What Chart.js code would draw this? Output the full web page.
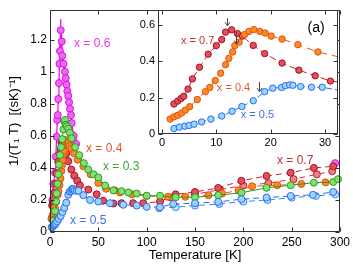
<!DOCTYPE html>
<html><head><meta charset="utf-8">
<script src="https://cdn.jsdelivr.net/npm/chart.js@4.4.0/dist/chart.umd.min.js"></script>
<style>
html,body{margin:0;padding:0;background:#fff;}
#wrap{position:relative;width:353px;height:264px;overflow:hidden;}
#main{position:absolute;left:0;top:0;}
#inset{position:absolute;left:130px;top:0;}
</style></head><body>
<div id="wrap"><canvas id="main" width="353" height="264"></canvas><canvas id="inset" width="212" height="150"></canvas></div>
<script>
// ---- tick values ----
const mainXTicks = [0,50,100,150,200,250,300];
const mainYTicks = [0,0.2,0.4,0.6,0.8,1,1.2];
const insetXTicks = [0,10,20,30];
const insetYTicks = [0,0.2,0.4,0.6];

// ---- series: x = 0.7 ----
const redT = [2.2,2.9,3.5,4.0,4.8,5.6,6.9,8.5,10.0,11.0,11.7,12.8,13.9,14.8,16.8,18.9,22.1,25.2,28.2,31.0,39.6,48.3,55,65.5,74,86,96.5,113.8,130,150,174,198,224,249,273,293];
const redV = [0.165,0.181,0.195,0.207,0.247,0.303,0.367,0.439,0.486,0.519,0.560,0.573,0.552,0.538,0.487,0.442,0.390,0.351,0.320,0.291,0.265,0.235,0.195,0.178,0.18,0.18,0.18,0.19,0.235,0.25,0.275,0.32,0.35,0.37,0.40,0.41];
const red2T = [125,150,176,200,226,252,276,292];
const red2V = [0.215,0.235,0.265,0.29,0.305,0.33,0.36,0.38];
// ---- x = 0.4 ----
const orangeT = [1.5,2.2,2.9,3.6,4.3,5.1,6.5,8.0,8.8,9.8,10.8,11.7,12.3,13.0,13.4,14.2,15.2,16.0,16.9,18.0,19.0,20.1,22.1,25.0,28.7,34.5,42,50,58,67,72.4,85,100,122,140,164,178,195,209,235,260,285];
const orangeV = [0.082,0.094,0.103,0.115,0.131,0.150,0.190,0.233,0.256,0.294,0.334,0.381,0.416,0.451,0.486,0.505,0.547,0.564,0.574,0.564,0.555,0.538,0.522,0.491,0.451,0.41,0.36,0.306,0.27,0.26,0.247,0.235,0.225,0.22,0.22,0.23,0.24,0.26,0.285,0.292,0.30,0.31];
// ---- x = 0.5 ----
const blueT = [2.2,3.2,4.2,5.0,5.9,7.3,9.0,11.0,12.9,14.7,16.8,18.9,20.4,22.0,22.7,23.5,24.1,25.5,27.5,29.5,34.5,41.4,50,62,75.8,89.7,100,113.8,127.5,150,174,198,224,249,272,293];
const blueV = [0.030,0.038,0.043,0.047,0.054,0.066,0.082,0.099,0.125,0.151,0.183,0.233,0.252,0.256,0.266,0.270,0.268,0.261,0.257,0.257,0.23,0.20,0.19,0.18,0.17,0.165,0.157,0.155,0.175,0.18,0.188,0.205,0.215,0.225,0.232,0.25];
const blue2T = [113,130,150,175,200,225,250,275,295];
const blue2V = [0.148,0.155,0.165,0.175,0.19,0.2,0.215,0.225,0.235];
// ---- x = 0.3 ----
const greenT = [1.7,3.4,5.2,6.2,6.9,7.9,8.6,9.3,10.3,11.4,12.5,13.8,14.8,15.5,16.5,17.5,18.9,20.5,22.4,26,30.3,35,39.6,45,50,57,65.5,74,81,89.7,100,113.8,130,150,174,198,224,249,273,293,298];
const greenV = [0.03,0.07,0.13,0.19,0.24,0.30,0.36,0.42,0.48,0.53,0.58,0.64,0.69,0.70,0.67,0.66,0.645,0.62,0.585,0.53,0.48,0.43,0.39,0.36,0.34,0.29,0.26,0.255,0.247,0.24,0.227,0.227,0.217,0.217,0.23,0.245,0.276,0.292,0.308,0.312,0.33];
// ---- x = 0.6 ----
const magT = [2.5,3.5,5.2,6.0,6.9,7.5,8.0,8.6,9.3,9.8,10.3,11.1,12.1,12.8,14.0,15.5,16.2,17.2,17.9,18.9,19.7,20.7,21.7,22.4,24.5,27];
const magV = [0.2,0.3,0.37,0.47,0.595,0.70,0.73,0.83,0.93,1.05,1.13,1.26,1.19,1.10,1.05,1.00,0.96,0.92,0.88,0.85,0.81,0.77,0.73,0.68,0.60,0.55];
const magErr = [0.02,0.02,0.03,0.03,0.03,0.03,0.03,0.03,0.03,0.03,0.04,0.07,0.04,0.04,0.03,0.03,0.03,0.03,0.03,0.03,0.03,0.03,0.03,0.03,0.03,0.03];
const magHighT = [295];
const magHighV = [0.43];
const magHighErr = [0.02];

// ---- text annotations ----
const mainLabels = [
  {text:'x = 0.6', T:24.8, v:1.173, color:'#ee33ee'},
  {text:'x = 0.4', T:37.2, v:0.52, color:'#e8552a'},
  {text:'x = 0.3', T:54.8, v:0.409, color:'#33a833'},
  {text:'x = 0.5', T:20.7, v:0.07, color:'#3f6ff0'},
  {text:'x = 0.7', T:234.8, v:0.445, color:'#c0303a'}
];
const insetLabels = [
  {text:'x = 0.7', T:3.5, v:0.509, color:'#c0303a', size:11},
  {text:'x = 0.4', T:10.1, v:0.251, color:'#e8552a', size:11},
  {text:'x = 0.5', T:14.5, v:0.104, color:'#3f6ff0', size:11},
  {text:'(a)', T:26.8, v:0.581, color:'#000', size:14}
];
const arrowT = [11.9, 13.7, 17.9];
const arrowTop = [0.637, 0.56, 0.286];
const arrowBot = [0.595, 0.495, 0.233];

const ST = {
  red:{fill:'#e0505a', edge:'#a81020', line:'#c82030'},
  red2:{fill:'#f08088', edge:'#c01828', line:'#d83040'},
  orange:{fill:'#ff8a1c', edge:'#e0501a', line:'#ee5522'},
  blue:{fill:'#9ad4ff', edge:'#2a6cf0', line:'#2a6cf0'},
  blue2:{fill:'#bfe6ff', edge:'#3a80f0', line:'#3a80f0'},
  green:{fill:'#82e06c', edge:'#2a9a2a', line:'#2a9a2a'},
  mag:{fill:'#e070e8', edge:'#f000f0', line:'#f000f0'}
};
const FONT = "'Liberation Sans', Arial, Helvetica, sans-serif";

function pts(T,V){ return T.map((t,i)=>({x:t, y:V[i]})); }
function ds(T,V,st,extra){
  return Object.assign({
    data:pts(T,V), showLine:true, borderColor:st.line, borderWidth:1, borderDash:[6,4],
    pointBackgroundColor:st.fill, pointBorderColor:st.edge, pointBorderWidth:1,
    pointRadius:3.5, pointHoverRadius:3.5, fill:false, tension:0
  }, extra||{});
}

const framePlugin = {
  id:'frame',
  beforeDraw(chart, args, o){
    if(!o.white) return;
    const {ctx, chartArea:a} = chart;
    ctx.save(); ctx.fillStyle='#fff';
    ctx.fillRect(a.left, a.top, a.right-a.left, a.bottom-a.top); ctx.restore();
  },
  afterDraw(chart, args, o){
    const {ctx, chartArea:a, scales:{x,y}} = chart;
    const L = 4;
    ctx.save();
    ctx.strokeStyle='#333'; ctx.lineWidth=1; ctx.setLineDash([]);
    const l=Math.round(a.left)+0.5, r=Math.round(a.right)-0.5, t=Math.round(a.top)+0.5, b=Math.round(a.bottom)-0.5;
    ctx.strokeRect(l, t, r-l, b-t);
    ctx.beginPath();
    (o.xt||[]).forEach(v=>{ const p=Math.round(x.getPixelForValue(v))+0.5;
      ctx.moveTo(p,b); ctx.lineTo(p,b-L); ctx.moveTo(p,t); ctx.lineTo(p,t+L); });
    (o.yt||[]).forEach(v=>{ const p=Math.round(y.getPixelForValue(v))+0.5;
      ctx.moveTo(l,p); ctx.lineTo(l+L,p); ctx.moveTo(r,p); ctx.lineTo(r-L,p); });
    ctx.stroke();
    ctx.restore();
  }
};

const errPlugin = {
  id:'errbars',
  beforeDatasetsDraw(chart){
    const {ctx, scales:{x,y}} = chart;
    chart.data.datasets.forEach(d=>{
      if(!d.errors) return;
      ctx.save(); ctx.strokeStyle=d.borderColor; ctx.lineWidth=1.2; ctx.setLineDash([]);
      ctx.beginPath();
      d.data.forEach((p,i)=>{
        const px=x.getPixelForValue(p.x);
        ctx.moveTo(px, y.getPixelForValue(p.y - d.errors[i]));
        ctx.lineTo(px, y.getPixelForValue(p.y + d.errors[i]));
      });
      ctx.stroke(); ctx.restore();
    });
  }
};

const notePlugin = {
  id:'notes',
  afterDatasetsDraw(chart, args, o){
    const {ctx, scales:{x,y}} = chart;
    ctx.save();
    ctx.textAlign='left'; ctx.textBaseline='middle';
    (o.labels||[]).forEach(lb=>{
      ctx.fillStyle=lb.color;
      ctx.font=(lb.size||12)+'px '+FONT;
      ctx.fillText(lb.text, x.getPixelForValue(lb.T), y.getPixelForValue(lb.v));
    });
    if(o.arrows){
      ctx.strokeStyle='#444'; ctx.lineWidth=1; ctx.setLineDash([]);
      o.arrows.T.forEach((t,i)=>{
        const px=Math.round(x.getPixelForValue(t))+0.5;
        const y1=y.getPixelForValue(o.arrows.top[i]), y2=y.getPixelForValue(o.arrows.bot[i]);
        ctx.beginPath();
        ctx.moveTo(px,y1); ctx.lineTo(px,y2);
        ctx.moveTo(px-2.5,y2-3.5); ctx.lineTo(px,y2); ctx.lineTo(px+2.5,y2-3.5);
        ctx.stroke();
      });
    }
    ctx.restore();
  }
};

function fmt(v){ return String(+(+v).toFixed(2)); }

// ---------------- main chart ----------------
new Chart(document.getElementById('main'), {
  type:'scatter',
  data:{datasets:[
    ds(blueT, blueV, ST.blue, {clip:false}),
    ds(blue2T, blue2V, ST.blue2, {clip:false}),
    ds(greenT, greenV, ST.green, {clip:false, borderDash:[]}),
    ds(orangeT, orangeV, ST.orange, {clip:false, borderDash:[7,4]}),
    ds(redT, redV, ST.red, {clip:false}),
    ds(red2T, red2V, ST.red2, {clip:false}),
    ds(magT, magV, ST.mag, {clip:false, borderDash:[], borderWidth:1.2, errors:magErr}),
    ds(magHighT, magHighV, ST.mag, {clip:false, errors:magHighErr})
  ]},
  options:{
    responsive:false, animation:false, events:[],
    layout:{padding:{left:0, right:13, top:3, bottom:0}},
    plugins:{legend:{display:false}, tooltip:{enabled:false},
      frame:{xt:mainXTicks, yt:mainYTicks},
      notes:{labels:mainLabels}},
    scales:{
      x:{type:'linear', min:0, max:300,
        afterBuildTicks(a){ a.ticks = mainXTicks.map(v=>({value:v})); },
        ticks:{color:'#000', font:{family:FONT, size:12}, padding:3, maxRotation:0, autoSkip:false, callback:fmt},
        grid:{display:false, drawTicks:false}, border:{display:false},
        title:{display:true, text:'Temperature [K]', color:'#000', font:{family:FONT, size:13}, padding:{top:0, bottom:1}},
        afterFit(a){ a.height = 32; }
      },
      y:{type:'linear', min:0, max:1.385,
        afterBuildTicks(a){ a.ticks = mainYTicks.map(v=>({value:v})); },
        ticks:{color:'#000', font:{family:FONT, size:12}, padding:3, autoSkip:false, callback:fmt},
        grid:{display:false, drawTicks:false}, border:{display:false},
        title:{display:true, text:'1/(T\u2081 T)  [(sK)\u207B\u00B9]', color:'#000', font:{family:FONT, size:13}, padding:{top:7, bottom:0}},
        afterFit(a){ a.width = 50; }
      }
    }
  },
  plugins:[framePlugin, errPlugin, notePlugin]
});

// ---------------- inset chart ----------------
const IR = 3.2;
new Chart(document.getElementById('inset'), {
  type:'scatter',
  data:{datasets:[
    ds(blueT, blueV, ST.blue, {pointRadius:IR, borderDash:[6,3]}),
    ds(orangeT, orangeV, ST.orange, {pointRadius:IR, borderDash:[8,5]}),
    ds(redT, redV, ST.red, {pointRadius:IR, borderDash:[7,4]})
  ]},
  options:{
    responsive:false, animation:false, events:[],
    layout:{padding:{left:0, right:4, top:3, bottom:0}},
    plugins:{legend:{display:false}, tooltip:{enabled:false},
      frame:{xt:insetXTicks, yt:insetYTicks, white:true},
      notes:{labels:insetLabels, arrows:{T:arrowT, top:arrowTop, bot:arrowBot}}},
    scales:{
      x:{type:'linear', min:-0.73, max:32.3,
        afterBuildTicks(a){ a.ticks = insetXTicks.map(v=>({value:v})); },
        ticks:{color:'#000', font:{family:FONT, size:11}, padding:2, maxRotation:0, autoSkip:false, callback:fmt},
        grid:{display:false, drawTicks:false}, border:{display:false},
        afterFit(a){ a.height = 16; }
      },
      y:{type:'linear', min:0, max:0.684,
        afterBuildTicks(a){ a.ticks = insetYTicks.map(v=>({value:v})); },
        ticks:{color:'#000', font:{family:FONT, size:11}, padding:3, autoSkip:false, callback:fmt},
        grid:{display:false, drawTicks:false}, border:{display:false},
        afterFit(a){ a.width = 28; }
      }
    }
  },
  plugins:[framePlugin, notePlugin]
});
</script>
</body></html>
